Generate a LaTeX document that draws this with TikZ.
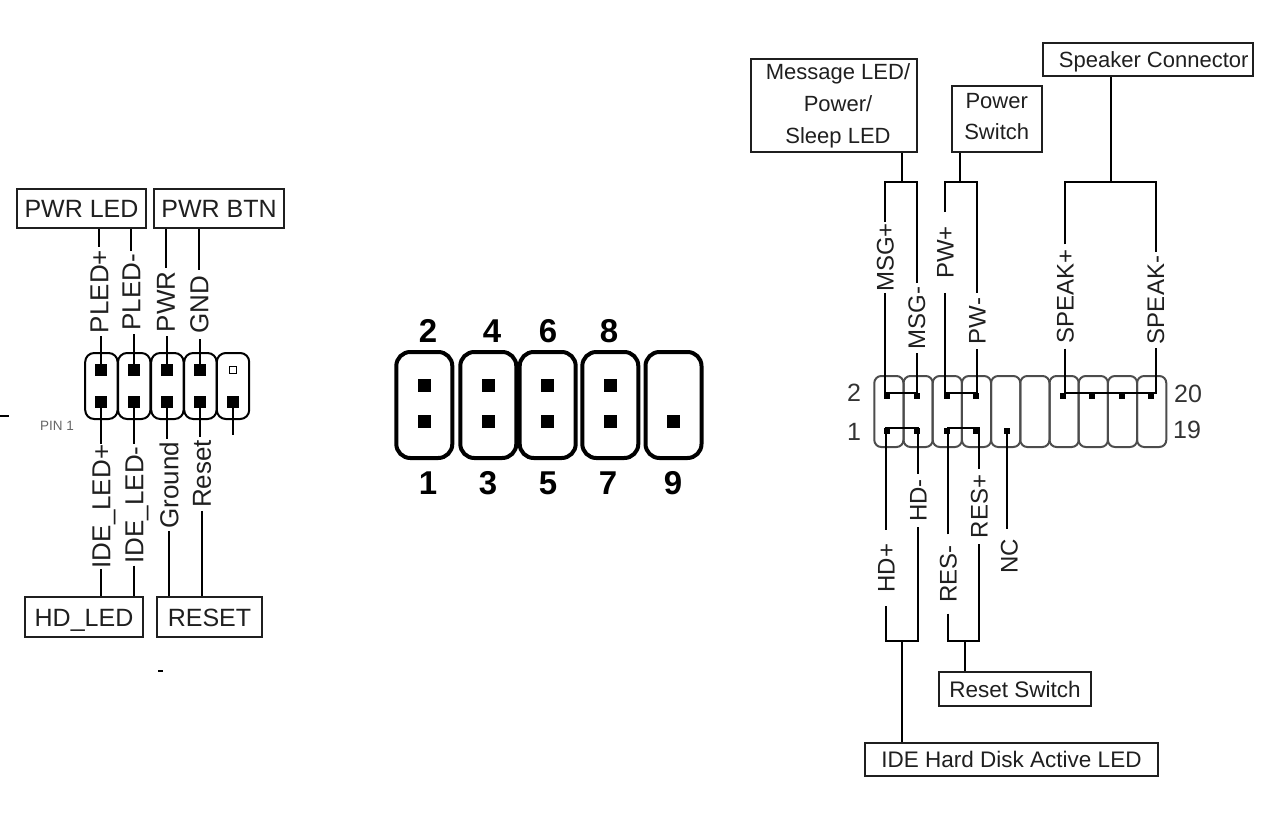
\documentclass[tikz,border=0pt]{standalone}
\usepackage{fontspec}
\setmainfont{Liberation Sans}
\tikzset{
    fsize/.code={\pgfmathsetmacro\capht{#1*.72}\tikzset{font=\fontsize{#1}{#1}\selectfont, text height=\capht pt, text depth=0pt}},
    boxlabel/.style={draw, line width=2.4pt, color=black!88, inner sep=0pt, align=center},
    rotlabel/.style={rotate=90, inner sep=0pt, outer sep=#1, color=black!88},
    cell/.style={draw, rounded corners=#1, inner sep=0pt},
    pin/.style={fill, inner sep=0pt, minimum size=#1},
    wire/.style={line width=2pt},
    speck/.style={fill, inner sep=0pt, minimum width=#1, minimum height=2.5pt}
}
\begin{document}
\begin{tikzpicture}[x=1pt, y=-1pt]
    \useasboundingbox (0,0) rectangle (1276,813);

    \foreach \i/\x in {1/101.4,2/134.2,3/167.4,4/200.4,5/233}
        {
            \node (lcell\i) at (\x,386)[cell=9pt, line width=2pt, minimum width=32.4pt, minimum height=66pt]{};
            \node (lb\i) at (\x,401.7)[pin=12pt]{};
        }
    \foreach \i/\x in {1/101.4,2/134.2,3/167.4,4/200.4}
        \node (lt\i) at (\x,370)[pin=12pt]{};
    \node (lt5) at (233,370)[draw, line width=1.6pt, inner sep=0pt, minimum size=7pt]{};

    \node (pwrled) at (81.5,208.5)[boxlabel, fsize=25, minimum width=129pt, minimum height=39pt]{PWR LED};
    \node (pwrbtn) at (219,208.5)[boxlabel, fsize=25, minimum width=130pt, minimum height=39pt]{PWR BTN};
    \node (hdled) at (84,617)[boxlabel, fsize=25, minimum width=118pt, minimum height=40pt]{HD\_LED};
    \node (resetbox) at (209.5,617)[boxlabel, fsize=25, minimum width=105pt, minimum height=40pt]{RESET};

    \node (pledp) at (99,291.5)[rotlabel=3pt, fsize=26]{PLED+};
    \node (pledm) at (131,292.5)[rotlabel=3pt, fsize=26]{PLED-};
    \node (pwrpin) at (165.5,302)[rotlabel=4pt, fsize=26]{PWR};
    \node (gndpin) at (199,304.5)[rotlabel=6pt, fsize=26]{GND};
    \node (idep) at (101,506.5)[rotlabel=1pt, fsize=26]{IDE\_LED+};
    \node (idem) at (134,505)[rotlabel=2pt, fsize=26]{IDE\_LED-};
    \node (grnd) at (169,485)[rotlabel=3pt, fsize=26]{Ground};
    \node (rst) at (201.5,474)[rotlabel=3pt, fsize=26]{Reset};
    \node (pinone) at (57,426)[inner sep=0pt, color=black!60, fsize=13.5]{PIN 1};
    \node (markl) at (4.5,416)[speck=9pt]{};
    \node (markb) at (160,671)[speck=5pt]{};
    \coordinate (stub) at (233,435);

    \foreach \a/\b/\c in {lt1/pledp/pwrled,lt2/pledm/pwrled,lt3/pwrpin/pwrbtn,lt4/gndpin/pwrbtn}
        {
            \draw[wire] (\a) -- (\a |- \b.west);
            \draw[wire] (\b.east) -- (\b.east |- \c.south);
        }
    \foreach \a/\b/\c in {lb1/idep/hdled,lb2/idem/hdled,lb3/grnd/resetbox,lb4/rst/resetbox}
        {
            \draw[wire] (\a) -- (\a |- \b.east);
            \draw[wire] (\b.west) -- (\b.west |- \c.north);
        }
    \draw[wire] (lb5) -- (stub);

    \foreach \i/\x in {1/424.3,2/488.3,3/547.7,4/610.3}
        {
            \node (mcell\i) at (\x,405)[cell=14pt, line width=4pt, minimum width=56pt, minimum height=106pt]{};
            \node (mtop\i) at (\x,385.7)[pin=13pt]{};
        }
    \node (mcell5) at (673.5,405)[cell=14pt, line width=4pt, minimum width=56pt, minimum height=106pt]{};
    \foreach \i/\x in {1/424.3,2/488.3,3/547.7,4/610.3,5/673.5}
        \node (mbot\i) at (\x,421.7)[pin=13pt]{};
    \foreach \n/\x in {2/428,4/492,6/548,8/609}
        \node (mnum\n) at (\x,331)[inner sep=0pt, fsize=33]{\textbf{\n}};
    \foreach \n/\x in {1/428,3/488,5/548,7/608,9/673}
        \node (mnum\n) at (\x,483)[inner sep=0pt, fsize=33]{\textbf{\n}};

    \foreach \i in {0,...,9}
        \node (rcell\i) at ({888.9+29.2*\i},411.5)[cell=7pt, line width=2pt, color=black!70, minimum width=29.2pt, minimum height=71pt]{};
    \foreach \i/\x in {1/887,2/917,3/946.5,4/976,7/1063,8/1092,9/1121.5,10/1151}
        \node (rt\i) at (\x,395.7)[pin=6pt]{};
    \foreach \i/\x in {1/887,2/917,3/946.5,4/976,5/1007}
        \node (rb\i) at (\x,430.7)[pin=6pt]{};
    \node (rtwo) at (854,392)[inner sep=0pt, color=black!80, fsize=25]{2};
    \node (rone) at (854,431)[inner sep=0pt, color=black!80, fsize=25]{1};
    \node (rtwenty) at (1188,393)[inner sep=0pt, color=black!80, fsize=25]{20};
    \node (rnineteen) at (1187,429)[inner sep=0pt, color=black!80, fsize=25]{19};

    \node (msgbox) at (834,105.5)[boxlabel, fsize=22, text height=, text depth=, minimum width=166pt, minimum height=93pt]{\hspace*{8pt}Message LED/\\[10pt]\hspace*{8pt}Power/\\[10pt]\hspace*{8pt}Sleep LED};
    \node (pwbox) at (996.7,119)[boxlabel, fsize=22, text height=, text depth=6pt, minimum width=90pt, minimum height=66pt]{Power\\[9pt]Switch};
    \node (spkbox) at (1147.7,59.5)[boxlabel, fsize=22, minimum width=210pt, minimum height=33pt]{\hspace*{12pt}Speaker Connector};
    \node (rstbox) at (1015,689)[boxlabel, fsize=22.5, minimum width=152pt, minimum height=34pt]{Reset Switch};
    \node (idebox) at (1011.5,759.5)[boxlabel, fsize=22.5, minimum width=293pt, minimum height=33pt]{IDE Hard Disk Active LED};

    \node (msgp) at (885,257.5)[rotlabel=1pt, fsize=24]{MSG+};
    \node (msgm) at (916.5,318)[rotlabel=4pt, fsize=24]{MSG-};
    \node (pwp) at (945,252.5)[rotlabel=14pt, fsize=24]{PW+};
    \node (pwm) at (977,321)[rotlabel=5pt, fsize=24]{PW-};
    \node (spkp) at (1065,296.5)[rotlabel=5pt, fsize=24]{SPEAK+};
    \node (spkm) at (1155.5,300)[rotlabel=4pt, fsize=24]{SPEAK-};
    \node (hdp) at (886,568)[rotlabel=14pt, fsize=24]{HD+};
    \node (hdm) at (918,500.5)[rotlabel=5pt, fsize=24]{HD-};
    \node (resm) at (948,574)[rotlabel=11pt, fsize=24]{RES-};
    \node (resp) at (979,506.5)[rotlabel=6pt, fsize=24]{RES+};
    \node (ncpin) at (1009,556.5)[rotlabel=10pt, fsize=24]{NC};

    \coordinate (msgfork) at (902,181.7);
    \coordinate (pwfork) at (960,181.7);
    \coordinate (spkfork) at (1111,181.7);
    \coordinate (hdfork) at (901.7,641);
    \coordinate (resfork) at (965,641);

    \draw[wire] (msgbox.south -| msgfork) -- (msgfork);
    \draw[wire] (msgp.east) |- (msgm.east |- msgfork) -- (msgm.east);
    \draw[wire] (pwbox.south -| pwfork) -- (pwfork);
    \draw[wire] (pwp.east) |- (pwm.east |- pwfork) -- (pwm.east);
    \draw[wire] (spkbox.south -| spkfork) -- (spkfork);
    \draw[wire] (spkp.east) |- (spkm.east |- spkfork) -- (spkm.east);
    \draw[wire] (hdp.west) |- (hdm.west |- hdfork) -- (hdm.west);
    \draw[wire] (hdfork) -- (hdfork |- idebox.north);
    \draw[wire] (resm.west) |- (resp.west |- resfork) -- (resp.west);
    \draw[wire] (resfork) -- (resfork |- rstbox.north);

    \draw[wire] (msgp.west) -- (msgp.west |- rt1.north) -- (rt2.north) -- (msgm.west |- rt2.north) -- (msgm.west);
    \draw[wire] (pwp.west) -- (pwp.west |- rt3.north) -- (rt4.north) -- (pwm.west |- rt4.north) -- (pwm.west);
    \draw[wire] (spkp.west) -- (spkp.west |- rt7.north) -- (spkm.west |- rt10.north) -- (spkm.west);
    \draw[wire] (hdp.east) -- (hdp.east |- rb1.north) -- (hdm.east |- rb2.north) -- (hdm.east);
    \draw[wire] (resm.east) -- (resm.east |- rb3.north) -- (resp.east |- rb4.north) -- (resp.east);
    \draw[wire] (rb5) -- (rb5 |- ncpin.east);
\end{tikzpicture}
\end{document}
